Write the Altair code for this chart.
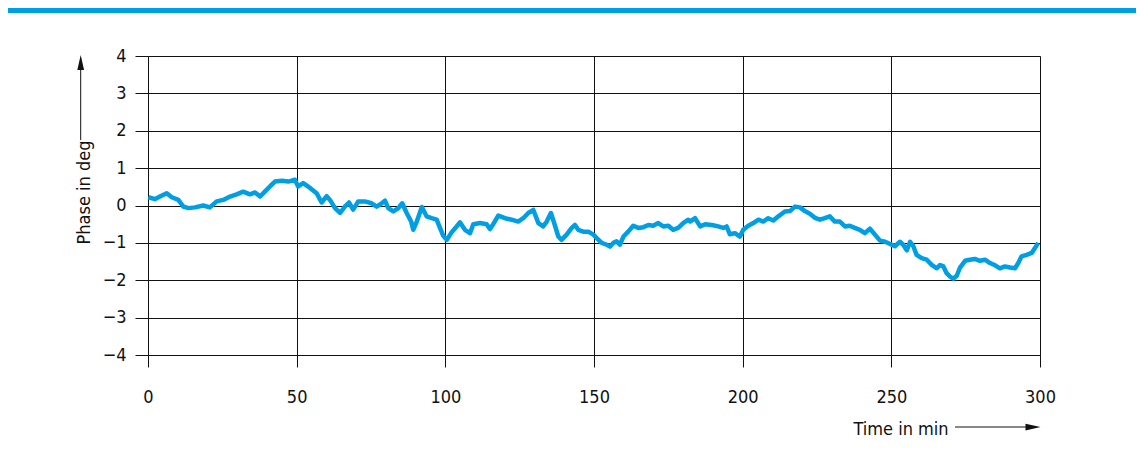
import altair as alt
import pandas as pd

# ---- data (time in minutes, phase in degrees) ----
time_a = [0.1, 2.4, 4.0, 6.3, 8.0, 10.2, 11.9, 13.6, 15.8, 18.6, 20.8, 23.1, 25.3, 27.6, 29.8,
          32.0, 34.3, 36.0, 37.7, 39.3, 41.0, 42.7, 45.0, 47.2, 49.4, 50.5, 52.2, 54.5, 56.7, 58.4]
phase_a = [0.22, 0.17, 0.24, 0.33, 0.22, 0.15, -0.03, -0.07, -0.05, 0.0, -0.05, 0.11, 0.15, 0.24, 0.30,
           0.37, 0.30, 0.35, 0.24, 0.37, 0.51, 0.64, 0.66, 0.64, 0.69, 0.51, 0.60, 0.47, 0.33, 0.08]

time_b = [60.1, 61.2, 62.9, 64.6, 66.2, 67.6, 69.0, 70.7, 72.9, 75.2, 76.9, 78.6, 79.7, 80.8, 82.5,
          84.2, 85.5, 87.0, 88.5, 89.2, 90.4, 92.1, 93.7, 95.4, 97.1, 98.2, 99.3, 100.5, 102.1, 103.8,
          104.9, 106.6, 108.3, 109.4, 111.7, 113.9, 115.0, 116.1, 117.8]
phase_b = [0.25, 0.15, -0.07, -0.20, -0.03, 0.08, -0.11, 0.11, 0.11, 0.06, -0.03, 0.06, 0.13, -0.07, -0.16,
           -0.07, 0.06, -0.20, -0.43, -0.65, -0.43, -0.04, -0.29, -0.34, -0.38, -0.60, -0.81, -0.92, -0.72, -0.56,
           -0.45, -0.65, -0.74, -0.50, -0.47, -0.50, -0.63, -0.50, -0.27]

time_c = [120.1, 122.3, 124.5, 126.2, 127.9, 129.6, 131.3, 132.9, 134.1, 135.5, 136.6, 138.0, 139.1, 140.8,
          142.5, 143.6, 144.7, 146.4, 148.1, 149.8, 150.9, 152.6, 154.3, 155.4, 156.5, 157.6, 158.7, 159.9,
          161.5, 163.2, 164.9, 166.6, 168.3, 169.9, 171.6, 173.3, 175.0, 176.6, 178.3, 180.0]
phase_c = [-0.34, -0.38, -0.43, -0.34, -0.20, -0.12, -0.47, -0.56, -0.43, -0.20, -0.47, -0.83, -0.92, -0.78,
           -0.60, -0.52, -0.65, -0.70, -0.70, -0.78, -0.87, -1.00, -1.05, -1.10, -1.00, -0.96, -1.05, -0.83,
           -0.70, -0.54, -0.60, -0.58, -0.52, -0.54, -0.47, -0.56, -0.54, -0.65, -0.60, -0.47]

time_d = [181.7, 182.3, 184.0, 185.7, 187.4, 189.6, 191.8, 193.5, 194.6, 195.7, 197.4, 199.1, 200.2, 201.9,
          203.6, 205.3, 206.9, 208.6, 210.3, 212.0, 214.2, 215.9, 217.6, 219.3, 220.9, 222.6, 224.3, 226.0,
          227.6, 229.3, 231.0, 232.7, 234.4, 236.0, 237.7, 239.4, 241.1]
phase_d = [-0.38, -0.43, -0.34, -0.56, -0.50, -0.52, -0.56, -0.60, -0.56, -0.77, -0.74, -0.83, -0.65, -0.54,
           -0.47, -0.38, -0.43, -0.34, -0.40, -0.29, -0.16, -0.15, -0.03, -0.05, -0.15, -0.22, -0.33, -0.38,
           -0.34, -0.29, -0.43, -0.43, -0.56, -0.54, -0.60, -0.65, -0.74]

time_e = [242.8, 244.5, 246.2, 247.9, 249.6, 251.2, 252.9, 254.0, 255.2, 256.3, 257.4, 258.5, 260.2, 261.9,
          263.6, 265.3, 266.4, 267.5, 268.6, 269.7, 270.8, 272.0, 273.1, 274.8, 276.4, 278.1, 279.8, 281.5,
          283.2, 284.9, 286.5, 288.2, 289.9, 291.6, 292.7, 293.8, 295.5, 297.2, 298.3, 299.4]
phase_e = [-0.62, -0.78, -0.94, -0.97, -1.03, -1.09, -0.97, -1.05, -1.20, -0.97, -1.09, -1.32, -1.41, -1.45,
           -1.59, -1.68, -1.59, -1.63, -1.81, -1.90, -1.96, -1.88, -1.66, -1.48, -1.45, -1.43, -1.48, -1.45,
           -1.54, -1.60, -1.68, -1.63, -1.66, -1.68, -1.54, -1.36, -1.32, -1.27, -1.14, -1.00]

x_ticks = [0, 50, 100, 150, 200, 250, 300]
y_ticks = [-4, -3, -2, -1, 0, 1, 2, 3, 4]

FONT = "DejaVu Sans Condensed, Roboto, Liberation Sans, sans-serif"
FS = 18
BLUE = "#009fe3"
INK = "#111111"

df = pd.DataFrame({
    "t": time_a + time_b + time_c + time_d + time_e,
    "p": phase_a + phase_b + phase_c + phase_d + phase_e,
})
one = pd.DataFrame({"k": [0]})

W, H = 892, 299

line = alt.Chart(df).mark_line(color=BLUE, strokeWidth=4.5, strokeJoin="round").encode(
    x=alt.X("t:Q", scale=alt.Scale(domain=[0, 300], nice=False, zero=False),
            axis=alt.Axis(values=x_ticks, title=None, grid=True, gridColor=INK, gridOpacity=1,
                          gridWidth=1, tickSize=12, tickColor=INK, domainColor=INK,
                          labelFlush=False, labelOverlap=False,
                          labelFont=FONT, labelFontSize=FS, labelColor=INK, labelPadding=21)),
    y=alt.Y("p:Q", scale=alt.Scale(domain=[-4, 4], nice=False),
            axis=alt.Axis(values=y_ticks, title=None, grid=True, gridColor=INK, gridOpacity=1,
                          gridWidth=1, tickSize=13, tickColor=INK, domainColor=INK,
                          labelFlush=False, labelOverlap=False,
                          labelFont=FONT, labelFontSize=FS, labelColor=INK, labelPadding=9)),
)

# top colour band of the card
topbar = alt.Chart(one).mark_rect(color=BLUE).encode(
    x=alt.value(-140), x2=alt.value(990), y=alt.value(-48), y2=alt.value(-43))

# axis titles with arrows
ytitle = alt.Chart(one).mark_text(text="Phase in deg", font=FONT, fontSize=FS, color=INK,
                                  angle=270, align="center", baseline="middle").encode(
    x=alt.value(-63), y=alt.value(136.5))
yline = alt.Chart(one).mark_rule(color=INK, strokeWidth=1).encode(
    x=alt.value(-67.3), y=alt.value(12), y2=alt.value(84))
yhead = alt.Chart(one).mark_point(shape="M-0.45,1L0,-1L0.45,1Z", filled=True, size=225,
                                  color=INK, opacity=1, strokeWidth=0).encode(
    x=alt.value(-67.3), y=alt.value(6.5))

xtitle = alt.Chart(one).mark_text(text="Time in min", font=FONT, fontSize=FS, color=INK,
                                  align="center", baseline="middle").encode(
    x=alt.value(753), y=alt.value(374))
xline = alt.Chart(one).mark_rule(color=INK, strokeWidth=1).encode(
    x=alt.value(807), x2=alt.value(881), y=alt.value(371))
xhead = alt.Chart(one).mark_point(shape="M-1,-0.45L1,0L-1,0.45Z", filled=True, size=225,
                                  color=INK, opacity=1, strokeWidth=0).encode(
    x=alt.value(885), y=alt.value(371))

chart = alt.layer(topbar, line, ytitle, yline, yhead, xtitle, xline, xhead).properties(
    width=W, height=H,
    autosize=alt.AutoSizeParams(type="none"),
    padding={"left": 140, "top": 48, "right": 96, "bottom": 95},
).configure_view(stroke=None).configure(background="white")

chart.save("out.html", embed_options={"renderer": "svg", "actions": False})
